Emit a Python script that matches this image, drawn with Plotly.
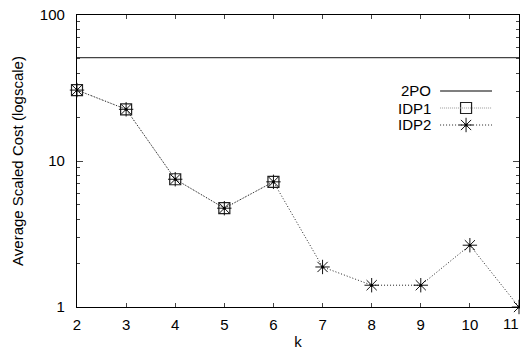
import plotly.graph_objects as go

k_all = [2, 3, 4, 5, 6, 7, 8, 9, 10, 11]
po2_cost = [51, 51, 51, 51, 51, 51, 51, 51, 51, 51]
k_idp1 = [2, 3, 4, 5, 6]
idp1_cost = [30.6, 22.6, 7.5, 4.75, 7.2]
idp2_cost = [30.6, 22.6, 7.5, 4.75, 7.2, 1.88, 1.41, 1.41, 2.65, 1.0]

x_ticks = [2, 3, 4, 5, 6, 7, 8, 9, 10, 11]
x_tick_text = ["2", "3", "4", "5", "6", "7", "8", "9", "10", ""]
y_ticks = [1, 10, 100]
y_tick_text = ["1", "10", "100"]

legend_names = ["2PO", "IDP1", "IDP2"]

FONT = "Liberation Sans, Arial, Helvetica, sans-serif"
FS = 15

SQ = dict(symbol="square-open", size=11, color="#222222", line=dict(color="#222222", width=1.2))
ST = dict(symbol="asterisk-open", size=12, color="#111111", line=dict(color="#111111", width=1))
DOT = dict(symbol="circle", size=3, color="#000000", line=dict(width=0))

fig = go.Figure()
fig.add_trace(go.Scatter(x=k_all, y=po2_cost, mode="lines",
                         line=dict(color="#444444", width=1.2), showlegend=False))
fig.add_trace(go.Scatter(x=k_idp1, y=idp1_cost, mode="lines+markers",
                         line=dict(color="#999999", width=1, dash="1px,1px"),
                         marker=SQ, showlegend=False, cliponaxis=False))
fig.add_trace(go.Scatter(x=k_all, y=idp2_cost, mode="lines+markers",
                         line=dict(color="#222222", width=1, dash="1px,2px"),
                         marker=ST, showlegend=False, cliponaxis=False))
fig.add_trace(go.Scatter(x=k_all, y=idp2_cost, mode="markers", marker=DOT,
                         showlegend=False, cliponaxis=False, hoverinfo="skip"))

# custom gnuplot-style legend (text left, sample right)
W, H = 520, 354
L, R, T, B = 76.5, 1, 15, 47
pw, ph = W - L - R, H - T - B
def px(x): return (x - L) / pw
def py(y): return 1 - (y - T) / ph

rows = [91, 108, 125]
styles = [dict(color="#000000", width=1.2, dash="solid"),
          dict(color="#999999", width=1, dash="1px,1px"),
          dict(color="#222222", width=1, dash="1px,2px")]
for name, yy, st in zip(legend_names, rows, styles):
    fig.add_annotation(x=px(431), y=py(yy), xref="paper", yref="paper",
                       text=name, showarrow=False, xanchor="right", yanchor="middle",
                       xshift=2, font=dict(family=FONT, size=FS, color="#000000"))
    fig.add_shape(type="line", xref="paper", yref="paper",
                  x0=px(440), x1=px(492), y0=py(yy), y1=py(yy), line=st)

# last x tick label, kept inside the page edge
fig.add_annotation(x=k_all[-1], y=py(324), xref="x", yref="paper", text=str(k_all[-1]),
                   showarrow=False, xanchor="right", yanchor="middle", xshift=2,
                   font=dict(family=FONT, size=FS, color="#000000"))

fig.add_trace(go.Scatter(x=[px(466)], y=[py(108)], xaxis="x2", yaxis="y2", mode="markers",
                         marker=SQ, showlegend=False, hoverinfo="skip"))
fig.add_trace(go.Scatter(x=[px(466)], y=[py(125)], xaxis="x2", yaxis="y2", mode="markers",
                         marker=ST, showlegend=False, hoverinfo="skip"))
fig.add_trace(go.Scatter(x=[px(466)], y=[py(125)], xaxis="x2", yaxis="y2", mode="markers",
                         marker=DOT, showlegend=False, hoverinfo="skip"))

fig.update_layout(
    width=W, height=H,
    margin=dict(l=L, r=R, t=T, b=B),
    paper_bgcolor="white", plot_bgcolor="white",
    font=dict(family=FONT, size=FS, color="#000000"),
    xaxis=dict(range=[2, 11], tickvals=x_ticks, ticktext=x_tick_text,
               ticks="inside", ticklen=4,
               showline=True, linecolor="#000000", linewidth=1.2, mirror="ticks",
               showgrid=False, zeroline=False, tickfont=dict(size=FS),
               ticklabelstandoff=4, automargin=False,
               title=dict(text="k", font=dict(size=FS), standoff=4)),
    yaxis=dict(type="log", range=[0, 2], tickvals=y_ticks, ticktext=y_tick_text,
               ticks="inside", ticklen=6,
               minor=dict(ticks="inside", ticklen=3, tickvals=[2,3,4,5,6,7,8,9,20,30,40,50,60,70,80,90],
                          showgrid=False),
               showline=True, linecolor="#000000", linewidth=1.2, mirror="ticks",
               showgrid=False, zeroline=False, tickfont=dict(size=FS),
               ticklabelstandoff=8, automargin=False,
               title=dict(text="Average Scaled Cost (logscale)", font=dict(size=FS), standoff=12)),
    xaxis2=dict(range=[0, 1], overlaying="x", visible=False, fixedrange=True),
    yaxis2=dict(range=[0, 1], overlaying="y", visible=False, fixedrange=True),
    showlegend=False,
)

fig.write_html("out.html")
